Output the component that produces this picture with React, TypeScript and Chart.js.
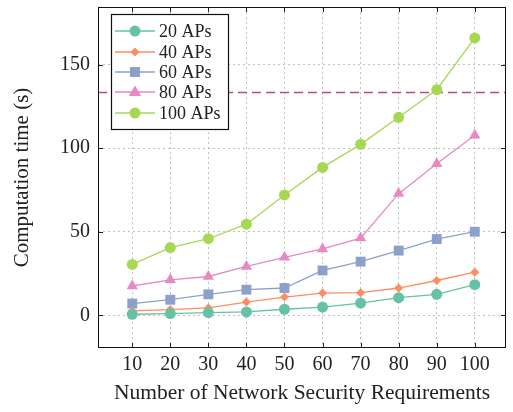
import React, { useEffect, useRef } from "react";
import { Chart, registerables } from "chart.js";
Chart.register(...registerables);

const requirements = [10, 20, 30, 40, 50, 60, 70, 80, 90, 100];
const aps20 = [0.6, 1, 1.6, 2, 3.6, 4.9, 7.3, 10.5, 12.5, 18.3];
const aps40 = [2.6, 3.4, 4.4, 7.9, 10.9, 13.3, 13.5, 16.3, 20.8, 25.8];
const aps60 = [7, 9.3, 12.5, 15.3, 16.3, 26.8, 32.1, 38.7, 45.6, 50];
const aps80 = [17.5, 21.2, 23.2, 29.2, 34.7, 39.7, 46.2, 72.8, 90.7, 107.7];
const aps100 = [30.4, 40.5, 45.8, 54.5, 72, 88.5, 102.3, 118.5, 135, 166];
const threshold = 133.3;
const yTickValues = [0, 50, 100, 150];
const seriesLabels = ["20 APs", "40 APs", "60 APs", "80 APs", "100 APs"];
const seriesColors = ["#66c2a5", "#fc8d62", "#8da0cb", "#e78ac3", "#a6d854"];
const seriesStyles = ["circle", "rectRot", "rect", "triangle", "circle"];
const seriesRadii = [5.5, 4.5, 7, 6.5, 5.5];

const FONT = "'Liberation Serif', 'DejaVu Serif', serif";

function drawMarker(ctx: CanvasRenderingContext2D, style: string, x: number, y: number, r: number, color: string) {
  ctx.save();
  ctx.fillStyle = color;
  ctx.beginPath();
  if (style === "circle") {
    ctx.arc(x, y, r, 0, Math.PI * 2);
  } else if (style === "rectRot") {
    ctx.moveTo(x, y - r);
    ctx.lineTo(x + r, y);
    ctx.lineTo(x, y + r);
    ctx.lineTo(x - r, y);
    ctx.closePath();
  } else if (style === "rect") {
    const s = r * Math.SQRT1_2;
    ctx.rect(x - s, y - s, 2 * s, 2 * s);
  } else if (style === "triangle") {
    ctx.moveTo(x, y - r);
    ctx.lineTo(x + r * 0.95, y + r * 0.6);
    ctx.lineTo(x - r * 0.95, y + r * 0.6);
    ctx.closePath();
  }
  ctx.fill();
  ctx.restore();
}

const framePlugin = {
  id: "frame",
  afterDatasetsDraw(chart: any) {
    const { ctx, chartArea: a, scales } = chart;
    ctx.save();
    ctx.strokeStyle = "#222";
    ctx.lineWidth = 1;
    const len = 5;
    ctx.beginPath();
    for (const v of requirements) {
      const x = Math.round(scales.x.getPixelForValue(v)) + 0.5;
      ctx.moveTo(x, a.bottom);
      ctx.lineTo(x, a.bottom - len);
      ctx.moveTo(x, a.top);
      ctx.lineTo(x, a.top + len);
    }
    for (const v of yTickValues) {
      const y = Math.round(scales.y.getPixelForValue(v)) + 0.5;
      ctx.moveTo(a.left, y);
      ctx.lineTo(a.left + len, y);
      ctx.moveTo(a.right, y);
      ctx.lineTo(a.right - len, y);
    }
    ctx.stroke();
    ctx.strokeStyle = "#111";
    ctx.strokeRect(Math.round(a.left) + 0.5, Math.round(a.top) + 0.5, Math.round(a.right - a.left) - 1, Math.round(a.bottom - a.top) - 1);

    // legend
    const lx = 111, ly = 14, lw = 117, lh = 115;
    ctx.fillStyle = "#fff";
    ctx.fillRect(lx, ly, lw, lh);
    ctx.strokeStyle = "#111";
    ctx.lineWidth = 1.2;
    ctx.strokeRect(lx + 0.5, ly + 0.5, lw, lh);
    const rowY = [31, 52, 72, 92, 113];
    ctx.font = `18px ${FONT}`;
    ctx.textBaseline = "middle";
    ctx.textAlign = "left";
    seriesLabels.forEach((lab, i) => {
      const y = rowY[i];
      ctx.strokeStyle = seriesColors[i];
      ctx.lineWidth = 1.3;
      ctx.beginPath();
      ctx.moveTo(115, y);
      ctx.lineTo(155, y);
      ctx.stroke();
      drawMarker(ctx, seriesStyles[i], 135, y, seriesRadii[i], seriesColors[i]);
      ctx.fillStyle = "#222";
      ctx.fillText(lab, 159, y + 1);
    });
    ctx.restore();
  },
};

export default function App() {
  const ref = useRef<HTMLCanvasElement>(null);
  useEffect(() => {
    document.body.style.margin = "0";
    const seriesData = [aps20, aps40, aps60, aps80, aps100];
    const datasets: any[] = seriesData.map((arr, i) => ({
      label: seriesLabels[i],
      data: requirements.map((x, j) => ({ x, y: arr[j] })),
      borderColor: seriesColors[i],
      backgroundColor: seriesColors[i],
      pointStyle: seriesStyles[i],
      pointRadius: seriesRadii[i],
      borderWidth: 1.3,
      pointBorderWidth: 0,
      tension: 0,
    }));
    datasets.push({
      label: "threshold",
      data: [
        { x: 1, y: threshold },
        { x: 108.2, y: threshold },
      ],
      borderColor: "#c8457c",
      borderDash: [9, 5],
      borderWidth: 1.6,
      pointRadius: 0,
    });
    const chart = new Chart(ref.current!, {
      type: "line",
      data: { datasets },
      options: {
        animation: false,
        responsive: false,
        layout: { padding: { top: 5, right: 5, left: 0, bottom: 0 } },
        plugins: { legend: { display: false }, tooltip: { enabled: false } },
        scales: {
          x: {
            type: "linear",
            min: 1,
            max: 108.2,
            afterBuildTicks: (s: any) => {
              s.ticks = requirements.map((v) => ({ value: v }));
            },
            afterFit: (s: any) => {
              s.height = 64;
              s.paddingLeft = 0;
              s.paddingRight = 0;
            },
            grid: { color: "#b0b0b0", lineWidth: 0.8, drawTicks: false },
            border: { display: false, dash: [2, 3] },
            ticks: { color: "#222", font: { family: FONT, size: 20 }, padding: 5, maxRotation: 0, autoSkip: false },
            title: { display: true, text: "Number of Network Security Requirements", color: "#222", font: { family: FONT, size: 21.5 }, padding: { top: 0, bottom: 6 } },
          },
          y: {
            type: "linear",
            min: -19.6,
            max: 184.5,
            afterBuildTicks: (s: any) => {
              s.ticks = yTickValues.map((v) => ({ value: v }));
            },
            afterFit: (s: any) => {
              s.width = 98;
              s.paddingTop = 0;
              s.paddingBottom = 0;
            },
            grid: { color: "#b0b0b0", lineWidth: 0.8, drawTicks: false },
            border: { display: false, dash: [2, 3] },
            ticks: { color: "#222", font: { family: FONT, size: 20 }, padding: 8 },
            title: { display: true, text: "Computation time (s)", color: "#222", font: { family: FONT, size: 21 }, padding: { top: 10, bottom: 0 } },
          },
        },
      },
      plugins: [framePlugin],
    });
    return () => chart.destroy();
  }, []);
  return (
    <div style={{ position: "fixed", left: 0, top: 0, width: 513, height: 412, background: "#fff" }}>
      <canvas ref={ref} width={513} height={412} />
    </div>
  );
}
